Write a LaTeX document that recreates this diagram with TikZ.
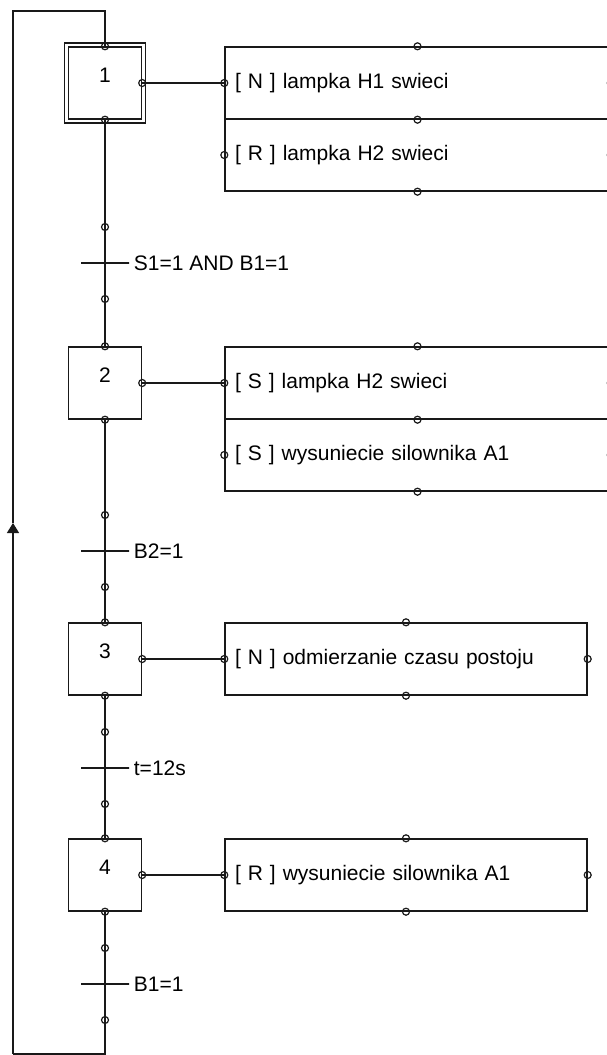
\documentclass[tikz,border=0pt]{standalone}
\usepackage{fontspec}
\setmainfont{Liberation Sans}
\usetikzlibrary{positioning,arrows.meta,calc}

\begin{document}
\begin{tikzpicture}[
    x=1pt, y=-1pt,
    font=\fontsize{21}{24}\selectfont,
    link/.style={line width=1.4pt, draw=black!90},
    stepbox/.style={draw=black!90, line width=1.4pt, rectangle, minimum width=73pt,
      minimum height=72pt, inner sep=0pt},
    initframe/.style={draw=black!90, line width=1.4pt, rectangle, minimum width=81pt,
      minimum height=80pt, inner sep=0pt},
    actbox/.style={draw=black!90, line width=1.4pt, rectangle, minimum height=72pt,
      inner xsep=10pt, inner ysep=0pt, align=left},
    trbar/.style={draw=black!90, line width=1.4pt, rectangle, minimum width=48pt,
      minimum height=0pt, inner sep=0pt},
    trlabel/.style={inner sep=0pt},
    steplbl/.style={inner sep=0pt},
    pin/.style={line width=1.2pt, draw=black!90}
  ]
    \useasboundingbox (0,0) rectangle (606,1055);

    \node[stepbox] (s1) at (105,83) {};
    \node[initframe] (s1f) at (105,83) {};
    \node[stepbox] (s2) at (105,383) {};
    \node[stepbox] (s3) at (105,659) {};
    \node[stepbox] (s4) at (105,875) {};
    \node[steplbl] (n1) at (105,75) {1};
    \node[steplbl] (n2) at (105,375) {2};
    \node[steplbl] (n3) at (105,651) {3};
    \node[steplbl] (n4) at (105,867) {4};

    \node[actbox, text width=365pt] (a1a) at (417.5,83) {[ N ] lampka H1 swieci};
    \node[actbox, text width=365pt] (a1b) at (417.5,155) {[ R ] lampka H2 swieci};
    \node[actbox, text width=365pt] (a2a) at (417.5,383) {[ S ] lampka H2 swieci};
    \node[actbox, text width=365pt] (a2b) at (417.5,455) {[ S ] wysuniecie silownika A1};
    \node[actbox, text width=342pt] (a3) at (406,659) {[ N ] odmierzanie czasu postoju};
    \node[actbox, text width=342pt] (a4) at (406,875) {[ R ] wysuniecie silownika A1};

    \node[trbar] (t1) at (105,263) {};
    \node[trbar] (t2) at (105,551) {};
    \node[trbar] (t3) at (105,768) {};
    \node[trbar] (t4) at (105,984) {};
    \node[trlabel, right=4pt of t1] (c1) {S1=1 AND B1=1};
    \node[trlabel, right=4pt of t2] (c2) {B2=1};
    \node[trlabel, right=4pt of t3] (c3) {t=12s};
    \node[trlabel, right=4pt of t4] (c4) {B1=1};

    \coordinate (lb) at (13,1054);
    \coordinate (la) at (13,523);
    \coordinate (lt) at (13,11);

    \draw[link] (s1.south) -- (s2.north);
    \draw[link] (s2.south) -- (s3.north);
    \draw[link] (s3.south) -- (s4.north);
    \draw[link] (s4.south) |- (lb);
    \draw[link, -{Triangle[length=10pt, width=12pt]}] (lb) -- (la);
    \draw[link] (la) -- (lt) -| (s1.north);

    \draw[link] (s1.east) -- (a1a.west);
    \draw[link] (s2.east) -- (a2a.west);
    \draw[link] (s3.east) -- (a3.west);
    \draw[link] (s4.east) -- (a4.west);

    \foreach \p in {s1.north, s1.south, s1.east, s2.north, s2.south, s2.east,
        s3.north, s3.south, s3.east, s4.north, s4.south, s4.east,
        a1a.north, a1a.south, a1b.south, a1a.west, a1b.west, a1a.east, a1b.east,
        a2a.north, a2a.south, a2b.south, a2a.west, a2b.west, a2a.east, a2b.east,
        a3.north, a3.south, a3.west, a3.east,
        a4.north, a4.south, a4.west, a4.east}
      \draw[pin] (\p) circle[radius=3.5pt];

    \foreach \t in {t1, t2, t3, t4} {
      \draw[pin] ($(\t)+(0,-36)$) circle[radius=3.5pt];
      \draw[pin] ($(\t)+(0,36)$) circle[radius=3.5pt];
    }
  \end{tikzpicture}
\end{document}
